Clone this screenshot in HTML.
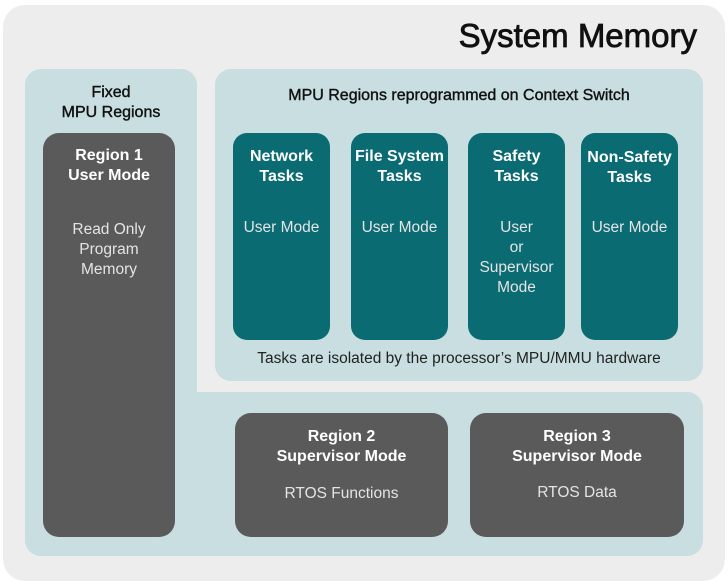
<!DOCTYPE html>
<html><head><style>
body{margin:0;width:728px;height:586px;background:#fff;font-family:"Liberation Sans",sans-serif;position:relative;overflow:hidden}
div{position:absolute;box-sizing:border-box}
.t{text-align:center;color:#fff;font-size:16px;line-height:20px}
.b{font-weight:bold}
.l{color:#e4e4e4;font-size:15.5px;line-height:20px;text-align:center}
.dk{background:#5a5a5a;border-radius:16px}
.tl{background:#0a6b73;border-radius:14px}
.m{-webkit-text-stroke:0.4px #111}
</style></head><body>
<div style="left:3px;top:5px;width:722px;height:576px;background:#ededed;border-radius:22px"></div>
<div class="m" style="left:420px;top:16px;width:277px;font-size:33px;color:#111;text-align:right;line-height:40px;-webkit-text-stroke:0.8px #111">System Memory</div>
<div style="left:25px;top:69px;width:172px;height:487px;background:#c8dee0;border-radius:16px"></div>
<div style="left:25px;top:392px;width:678px;height:164px;background:#c8dee0;border-radius:0 16px 16px 16px"></div>
<div style="left:215px;top:69px;width:488px;height:312px;background:#c8dee0;border-radius:16px"></div>
<div class="m" style="left:25px;top:83px;width:172px;text-align:center;font-size:16px;line-height:20px;color:#111">Fixed<br>MPU Regions</div>
<div class="m" style="left:215px;top:87px;width:488px;text-align:center;font-size:16px;color:#111">MPU Regions reprogrammed on Context Switch</div>
<div style="left:215px;top:350px;width:488px;text-align:center;font-size:15.5px;color:#222">Tasks are isolated by the processor’s MPU/MMU hardware</div>
<div class="dk" style="left:43px;top:133px;width:132px;height:404px"></div>
<div class="t b" style="left:43px;top:146px;width:132px">Region 1<br>User Mode</div>
<div class="l" style="left:43px;top:220px;width:132px">Read Only<br>Program<br>Memory</div>
<div class="tl" style="left:233px;top:133px;width:97px;height:207px"></div>
<div class="tl" style="left:351px;top:133px;width:97px;height:207px"></div>
<div class="tl" style="left:468px;top:133px;width:97px;height:207px"></div>
<div class="tl" style="left:581px;top:133px;width:97px;height:207px"></div>
<div class="t b" style="left:233px;top:147px;width:97px">Network<br>Tasks</div>
<div class="t b" style="left:347px;top:147px;width:105px">File System<br>Tasks</div>
<div class="t b" style="left:468px;top:147px;width:97px">Safety<br>Tasks</div>
<div class="t b" style="left:577px;top:148px;width:105px">Non-Safety<br>Tasks</div>
<div class="l" style="left:233px;top:218px;width:97px">User Mode</div>
<div class="l" style="left:351px;top:218px;width:97px">User Mode</div>
<div class="l" style="left:463px;top:218px;width:107px">User<br>or<br>Supervisor<br>Mode</div>
<div class="l" style="left:581px;top:218px;width:97px">User Mode</div>
<div class="dk" style="left:235px;top:413px;width:213px;height:124px"></div>
<div class="dk" style="left:470px;top:413px;width:214px;height:124px"></div>
<div class="t b" style="left:235px;top:427px;width:213px">Region 2<br>Supervisor Mode</div>
<div class="t b" style="left:470px;top:427px;width:214px">Region 3<br>Supervisor Mode</div>
<div class="l" style="left:235px;top:484px;width:213px">RTOS Functions</div>
<div class="l" style="left:470px;top:483px;width:214px">RTOS Data</div>
</body></html>
